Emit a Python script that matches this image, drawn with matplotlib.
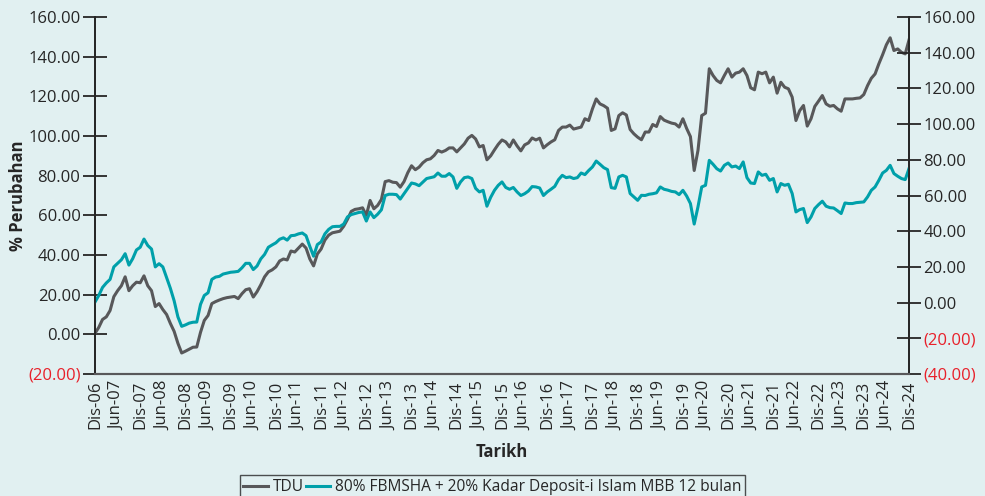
import matplotlib.pyplot as plt
import numpy as np

plt.rcParams['font.family'] = ['Open Sans', 'DejaVu Sans']

# monthly % change, Dis-06 .. Dis-24
tdu = [0.5, 3.5, 7.5, 8.8, 12, 19, 22, 24.5, 29, 22,
       24.5, 26.3, 26, 29.5, 24.5, 22, 14, 15.5, 12.5, 10,
       5.5, 1.5, -4.5, -9.4, -8.5, -7.5, -6.5, -6.4, 1, 7,
       9.5, 15.5, 16.5, 17.3, 18, 18.5, 18.8, 19.1,
       18, 20.5, 22.5, 23, 18.8, 21.5, 25, 29, 31.5, 32.5,
       34, 37, 38, 37.5, 42, 41.5, 43.5, 45.5, 43.5, 38,
       34.5, 40.5, 43, 47.5, 50, 51.2, 51.6, 52, 54.5, 58,
       62, 63, 63.3, 63.8, 60, 67.5, 63.3,
       65, 68, 77, 77.5, 76.7, 76.5, 74.2, 77, 81.5, 85,
       83, 84.3, 86.5, 88, 88.5, 90.2, 92.7, 91.9, 92.7, 94,
       94, 92, 94, 96, 98.9, 100.3, 98.5, 94.5, 95.2, 88,
       90, 93, 95.8, 98,
       97, 94.5, 98, 95, 92.5, 95.5, 96.5, 99, 98, 98.9,
       94, 95.6, 97, 98.1, 102.8, 104.5, 104.5, 105.5, 103.5, 104,
       104.5, 108.7, 107.8, 113.7, 118.7, 116.2, 115.3, 114, 102.8, 103.6,
       110.3, 111.7, 110.6, 103.3, 101.1, 99.4, 98.1,
       102, 102, 105.8, 104.8, 109.8, 108, 107.2, 106.5, 106.1, 104.5,
       108.7, 103.8, 99.7, 82.6, 92.7, 110.3, 111.5, 133.9, 130.5, 128,
       126.8, 130.5, 133.9, 129.7, 131.7, 132.2, 133.9, 130.5, 124.3, 123.3,
       132.2, 131.4, 132.2, 126.8, 129.7, 121.6,
       127.1, 124.6, 123.8, 119.6, 107.8, 112.8, 115.4, 105, 108.7, 114.9,
       117.6, 120.4, 116.2, 115, 115.4, 113.7, 112.5, 118.7, 118.7, 118.7,
       119, 119.2, 120.9, 125.4, 129.1, 131.3, 136.4, 141, 146, 149.5,
       143.1, 143.9, 142.2, 141.4, 148.4]

benchmark = [0.3, 4, 8.5, 11, 13, 20, 22, 24, 27.4, 21,
             24.6, 29.5, 31, 35.6, 32, 30, 20, 21.8, 20, 14,
             8, 1, -8, -13.3, -12.5, -11.5, -11, -10.9, -1, 4,
             5.5, 13, 14.3, 14.7, 16, 16.5, 17, 17.2,
             17.5, 19.5, 22, 22, 18.5, 20.5, 24.5, 27, 31, 32.3,
             33.5, 35.5, 36.3, 35, 37.5, 37.7, 38.5, 39, 37.5, 31.5,
             26, 32.5, 34, 38.5, 41, 42.5, 42.7, 42.7, 44, 48,
             49.3, 49.9, 50.5, 50.8, 45.7, 50.8, 47.6,
             49.5, 52, 60, 60.7, 60.7, 60.5, 58, 61, 64, 67,
             66.5, 65.5, 67.5, 69.5, 70, 70.5, 72.6, 70.8, 70.8, 72.3,
             70.4, 64, 67.6, 70, 70.4, 69.5, 64, 62, 62.9, 54,
             59, 62.9, 65.7, 67.6,
             64.5, 63.5, 64.5, 62, 60, 61, 62.5, 65, 64.8, 64.2,
             60, 62, 63.5, 65.1, 68.9, 71.3, 70, 70.4, 69.5, 70,
             72.6, 71.7, 74, 76, 79.3, 77.5, 75.6, 74.5, 64.4, 64,
             70.4, 71.3, 70.4, 61.1, 59.2, 57.3, 60.1,
             60, 60.7, 61, 61.5, 64.8, 63.5, 63, 62.3, 62, 60.5,
             62.9, 59.7, 55.5, 44, 53.6, 64.8, 65.7, 79.7, 77.5, 75,
             73.7, 76.9, 78.2, 76, 76.5, 75.1, 78.8, 70, 67, 66.7,
             73.2, 71.3, 71.9, 68.5, 69.5, 62,
             66.7, 65.7, 66.3, 61.1, 50.8, 52.1, 52.7, 44.8, 48, 52.7,
             54.9, 56.8, 54, 53.2, 53, 51.5, 49.9, 55.8, 55.5, 55.5,
             56, 56.2, 56.4, 59.2, 62.9, 64.8, 68.5, 72.6, 74.1, 76.9,
             72.3, 70.8, 69.5, 68.9, 75.1]

years = list(range(7, 25))
tick_labels = ["Dis-06"] + [f"{m}-{y:02d}" for y in years for m in ("Jun", "Dis")]

bg = "#e1f0f1"
grey = "#58585a"
teal = "#00a0aa"
red = "#e8202a"
dark = "#262626"

months = np.arange(len(tdu))


def fmt(v):
    return f"({abs(v):.2f})" if v < 0 else f"{v:.2f}"


fig = plt.figure(figsize=(9.85, 4.96), dpi=100, facecolor=bg)
ax = fig.add_axes([95 / 985, 1 - 374 / 496, 814 / 985, 357 / 496])
ax.set_facecolor(bg)
ax2 = ax.twinx()

l1, = ax.plot(months, tdu, color=grey, lw=2.2, label="TDU")
l2, = ax2.plot(months, benchmark, color=teal, lw=2.2,
               label="80% FBMSHA + 20% Kadar Deposit-i Islam MBB 12 bulan")

ax.set_xlim(0, len(tdu) - 1)
ax.set_ylim(-20, 160)
ax2.set_ylim(-40, 160)

left_ticks = np.arange(-20, 161, 20)
right_ticks = np.arange(-40, 161, 20)
ax.set_yticks(left_ticks)
ax.set_yticklabels([fmt(v) for v in left_ticks])
ax2.set_yticks(right_ticks)
ax2.set_yticklabels([fmt(v) for v in right_ticks])

for a, ticks in ((ax, left_ticks), (ax2, right_ticks)):
    a.tick_params(axis="y", direction="inout", length=17, width=1.3,
                  color=dark, labelsize=12, labelcolor=dark, pad=2)
    for v, lab, tk in zip(ticks, a.get_yticklabels(), a.yaxis.get_major_ticks()):
        if v < 0:
            lab.set_color(red)
            tk.tick1line.set_color(red)
            tk.tick2line.set_color(red)

ax.set_xticks(months[::6])
ax.set_xticklabels(tick_labels, rotation=90, fontsize=12, color=dark)
ax.tick_params(axis="x", length=0, pad=5)

for a in (ax, ax2):
    a.spines["top"].set_visible(False)
    a.spines["left"].set_color(dark)
    a.spines["right"].set_color(dark)
    a.spines["left"].set_linewidth(1.3)
    a.spines["right"].set_linewidth(1.3)
    a.spines["bottom"].set_color(grey)
    a.spines["bottom"].set_linewidth(1.5)

ax.set_ylabel("% Perubahan", fontsize=12, fontweight="bold", color=dark, labelpad=1)
ax.set_xlabel("Tarikh", fontsize=12, fontweight="bold", color=dark, labelpad=9)

leg = fig.legend(handles=[l1, l2], loc="lower center", bbox_to_anchor=(0.5, -0.006),
                 ncol=2, fontsize=11.2, frameon=True, fancybox=False,
                 handlelength=1.6, handletextpad=0.3, columnspacing=0.1,
                 borderpad=0.25, borderaxespad=0)
leg.get_frame().set_edgecolor(dark)
leg.get_frame().set_facecolor(bg)
leg.get_frame().set_linewidth(1.0)
for t in leg.get_texts():
    t.set_color(dark)

fig.savefig("out.png", dpi=100, facecolor=bg)
